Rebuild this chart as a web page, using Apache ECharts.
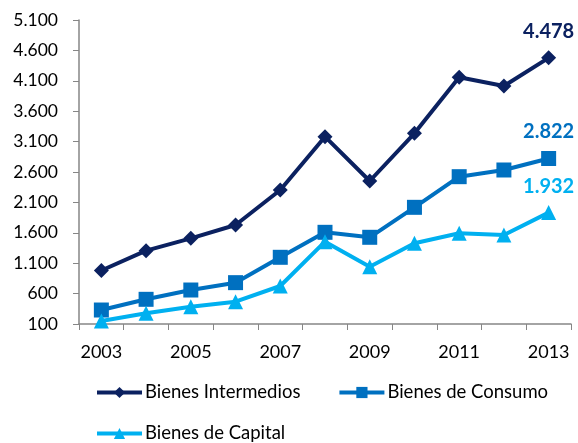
<!DOCTYPE html>
<html>
<head>
<meta charset="utf-8">
<script src="https://cdn.jsdelivr.net/npm/echarts@6/dist/echarts.min.js"></script>
<style>
  html, body { margin: 0; padding: 0; background: #fff; }
  #chart { width: 578px; height: 443px; }
</style>
</head>
<body>
<div id="chart"></div>
<script>
// datos
const years = ['2003', '2004', '2005', '2006', '2007', '2008', '2009', '2010', '2011', '2012', '2013'];
const intermedios = [980, 1306, 1509, 1728, 2304, 3181, 2452, 3236, 4157, 4014, 4478];
const consumo = [330, 506, 659, 780, 1197, 1608, 1526, 2019, 2523, 2633, 2822];
const capital = [150, 276, 385, 467, 725, 1454, 1043, 1427, 1592, 1564, 1932];

const font = 'Lato, "Open Sans", sans-serif';
const fmt = v => String(v).replace(/\B(?=(\d{3})+(?!\d))/g, '.');

// solo etiqueta en el ultimo punto
function lastLabel(arr, color) {
  return arr.map((v, i) => i === arr.length - 1
    ? { value: v, label: { show: true, position: 'top', distance: 9, color: color, fontWeight: 'bold', fontSize: 20, fontFamily: font, formatter: p => fmt(p.value) } }
    : v);
}

function serie(name, data, color, symbol, size) {
  return {
    name: name,
    type: 'line',
    data: lastLabel(data, color),
    symbol: symbol,
    symbolSize: size,
    lineStyle: { color: color, width: 4 },
    itemStyle: { color: color },
    animation: false
  };
}

const legendText = { fontSize: 18.5, fontFamily: font, color: '#000', padding: [0, 0, 0, -2] };

const chart = echarts.init(document.getElementById('chart'));
const option = {
  grid: { left: 79, right: 7, top: 20, bottom: 119 },
  legend: [{
    data: ['Bienes Intermedios', 'Bienes de Consumo'],
    left: 90, top: 378,
    itemWidth: 45, itemHeight: 14, itemGap: 37,
    lineStyle: { width: 4 },
    textStyle: legendText
  }, {
    data: ['Bienes de Capital'],
    left: 90, top: 419,
    itemWidth: 45, itemHeight: 14,
    lineStyle: { width: 4 },
    textStyle: legendText
  }],
  xAxis: {
    type: 'category',
    data: years,
    boundaryGap: true,
    axisLine: { lineStyle: { color: '#868686', width: 1.5 } },
    axisTick: { show: true, length: 6, interval: 0, lineStyle: { color: '#868686' } },
    axisLabel: { interval: 1, margin: 19, fontSize: 18, fontFamily: font, color: '#000' }
  },
  yAxis: {
    type: 'value',
    min: 100, max: 5100, interval: 500,
    splitLine: { show: false },
    axisLine: { show: true, lineStyle: { color: '#868686', width: 1.5 } },
    axisTick: { show: true, length: 6, lineStyle: { color: '#868686' } },
    axisLabel: { margin: 21, fontSize: 17.5, fontFamily: font, color: '#000', formatter: v => fmt(v) }
  },
  series: [
    serie('Bienes Intermedios', intermedios, '#0B2160', 'diamond', 15),
    serie('Bienes de Consumo', consumo, '#0070C0', 'rect', 15),
    serie('Bienes de Capital', capital, '#00B0F0', 'triangle', 15)
  ]
};
chart.setOption(option);
</script>
</body>
</html>
